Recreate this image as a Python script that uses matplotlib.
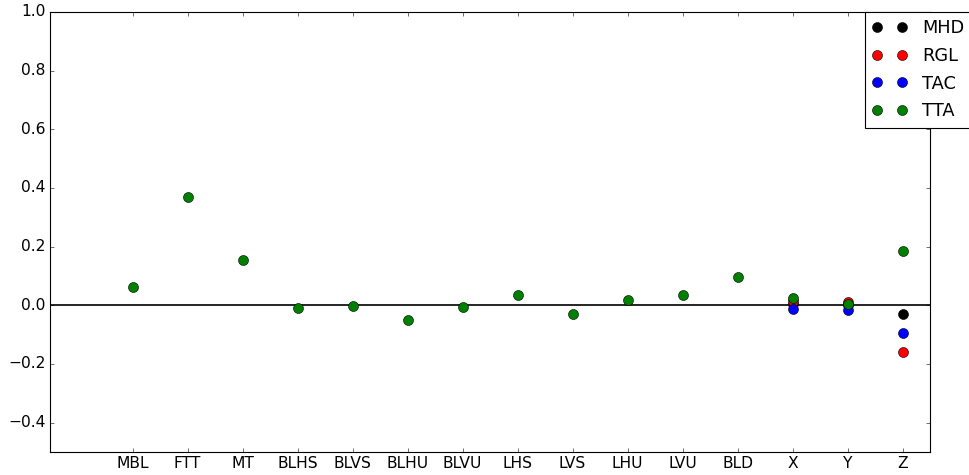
import numpy as np
import matplotlib
matplotlib.use('Agg')
import matplotlib.pyplot as plt

plt.style.use('classic')
plt.rcParams['font.size'] = 14

labels = ['MBL', 'FTT', 'MT', 'BLHS', 'BLVS', 'BLHU', 'BLVU', 'LHS',
          'LVS', 'LHU', 'LVU', 'BLD', 'X', 'Y', 'Z']

# per-method scores; the first three only exist for X, Y, Z
xyz = ['X', 'Y', 'Z']
mhd = [0.005, 0.0, -0.031]
rgl = [0.015, 0.013, -0.160]
tac = [-0.011, -0.017, -0.094]
tta = [0.062, 0.371, 0.153, -0.009, -0.002, -0.050, -0.006, 0.036,
       -0.031, 0.017, 0.034, 0.095, 0.025, 0.006, 0.186]

pos = {name: i + 1 for i, name in enumerate(labels)}
x_xyz = [pos[n] for n in xyz]
x_all = [pos[n] for n in labels]

fig = plt.figure(figsize=(969 / 80, 475 / 80), dpi=80)
ax = fig.add_axes([50 / 969, 23 / 475, 880 / 969, 440 / 475])

ax.axhline(0, color='k', lw=1.5)
ax.plot(x_xyz, mhd, 'o', color='k', markersize=9, label='MHD')
ax.plot(x_xyz, rgl, 'o', color='r', markersize=9, label='RGL')
ax.plot(x_xyz, tac, 'o', color='b', markersize=9, label='TAC')
ax.plot(x_all, tta, 'o', color='g', markersize=9, label='TTA')

ax.set_xlim(-0.5, 15.5)
ax.set_ylim(-0.5, 1.0)
ax.set_xticks(x_all)
ax.set_xticklabels(labels)
ax.set_yticks(np.arange(-0.4, 1.01, 0.2))

ax.legend(loc='upper left', bbox_to_anchor=(0.926, 1.0), numpoints=2,
          fontsize=16, borderaxespad=0, labelspacing=0.55)

fig.savefig('out.png', dpi=80)
